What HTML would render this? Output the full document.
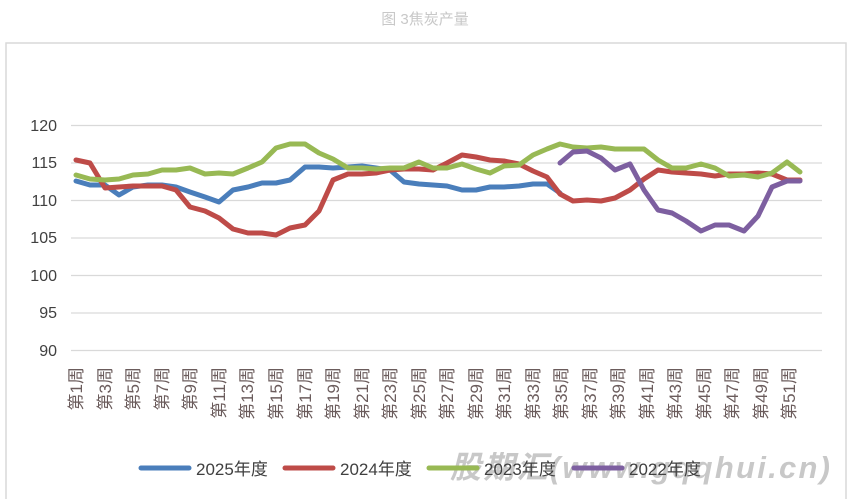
<!DOCTYPE html>
<html><head><meta charset="utf-8"><style>
body{margin:0;background:#fff;width:851px;height:499px;overflow:hidden}
svg{display:block;font-family:"Liberation Sans","Noto Sans CJK SC",sans-serif}
</style></head><body>
<svg width="851" height="499" viewBox="0 0 851 499">
<text x="425" y="24" text-anchor="middle" font-size="15" fill="#c8c8c8">图 3焦炭产量</text>
<rect x="6" y="43" width="840" height="470" fill="none" stroke="#d9d9d9" stroke-width="1.5"/>
<g stroke="#d9d9d9" stroke-width="1.2">
<line x1="71" x2="822" y1="125.5" y2="125.5"/><line x1="71" x2="822" y1="163" y2="163"/>
<line x1="71" x2="822" y1="200.5" y2="200.5"/><line x1="71" x2="822" y1="238" y2="238"/>
<line x1="71" x2="822" y1="275.5" y2="275.5"/><line x1="71" x2="822" y1="313" y2="313"/>
<line x1="71" x2="822" y1="350.5" y2="350.5"/>
</g>
<g font-size="16" fill="#404040" text-anchor="end">
<text x="57" y="131">120</text><text x="57" y="168">115</text><text x="57" y="206">110</text>
<text x="57" y="243">105</text><text x="57" y="281">100</text><text x="57" y="318">95</text><text x="57" y="356">90</text>
</g>
<g fill="none" stroke-width="5" stroke-linejoin="round" stroke-linecap="round">
<polyline stroke="#4a7ebb" points="76,181 90,185 105,185 119,195 133,187 148,185 162,185 176,187 190,192 205,197 219,202 233,190 248,187 262,183 276,183 290,180 305,167 319,167 333,168 348,167 362,166 376,168 390,170 404,182 419,184 433,185 447,186 462,190 476,190 490,187 504,187 519,186 533,184 547,184 560,193"/>
<polyline stroke="#be4b48" points="76,160 90,163 105,188 119,187 133,186 148,186 162,186 176,190 190,207 205,211 219,218 233,229 248,233 262,233 276,235 290,228 305,225 319,211 333,180 348,174 362,174 376,173 390,170 404,169 419,169 433,170 447,163 462,155 476,157 490,160 504,161 519,164 533,171 547,177 560,194 573,201 587,200 601,201 615,198 630,190 644,179 658,170 672,172 686,173 701,174 715,176 729,174 744,174 758,173 772,174 787,180 800,180"/>
<polyline stroke="#98b954" points="76,175 90,179 105,180 119,179 133,175 148,174 162,170 176,170 190,168 205,174 219,173 233,174 248,168 262,162 276,148 290,144 305,144 319,153 333,159 348,168 362,168 376,169 390,168 404,168 419,162 433,168 447,168 462,164 476,169 490,173 504,166 519,165 533,155 547,149 560,144 573,147 587,148 601,147 615,149 630,149 644,149 658,160 672,168 686,168 701,164 715,168 729,176 744,175 758,177 772,173 787,162 800,172"/>
<polyline stroke="#7d5fa0" points="560,163 573,152 587,151 601,158 615,170 630,164 644,190 658,210 672,213 686,221 701,231 715,225 729,225 744,231 758,216 772,187 787,181 800,181"/>
</g>
<text x="450" y="478" font-size="31" font-weight="bold" font-style="italic" fill="#bfbfbf" opacity="0.85" textLength="380">股期汇(www.gqqhui.cn)</text>
<g stroke-width="5" stroke-linecap="round">
<line x1="141" x2="189" y1="468" y2="468" stroke="#4a7ebb"/>
<line x1="285" x2="333" y1="468" y2="468" stroke="#be4b48"/>
<line x1="429" x2="477" y1="468" y2="468" stroke="#98b954"/>
<line x1="574" x2="622" y1="468" y2="468" stroke="#7d5fa0"/>
</g>
<g font-size="17" fill="#404040">
<text x="196" y="475">2025年度</text><text x="340" y="475">2024年度</text>
<text x="484" y="475">2023年度</text><text x="629" y="475">2022年度</text>
</g>
<g font-size="17" fill="#6b5c5c" text-anchor="end">
<text transform="translate(82,367) rotate(-90)">第1周</text>
<text transform="translate(111,367) rotate(-90)">第3周</text>
<text transform="translate(139,367) rotate(-90)">第5周</text>
<text transform="translate(168,367) rotate(-90)">第7周</text>
<text transform="translate(196,367) rotate(-90)">第9周</text>
<text transform="translate(225,367) rotate(-90)">第11周</text>
<text transform="translate(253,367) rotate(-90)">第13周</text>
<text transform="translate(282,367) rotate(-90)">第15周</text>
<text transform="translate(311,367) rotate(-90)">第17周</text>
<text transform="translate(339,367) rotate(-90)">第19周</text>
<text transform="translate(368,367) rotate(-90)">第21周</text>
<text transform="translate(396,367) rotate(-90)">第23周</text>
<text transform="translate(425,367) rotate(-90)">第25周</text>
<text transform="translate(453,367) rotate(-90)">第27周</text>
<text transform="translate(482,367) rotate(-90)">第29周</text>
<text transform="translate(510,367) rotate(-90)">第31周</text>
<text transform="translate(539,367) rotate(-90)">第33周</text>
<text transform="translate(567,367) rotate(-90)">第35周</text>
<text transform="translate(596,367) rotate(-90)">第37周</text>
<text transform="translate(624,367) rotate(-90)">第39周</text>
<text transform="translate(653,367) rotate(-90)">第41周</text>
<text transform="translate(681,367) rotate(-90)">第43周</text>
<text transform="translate(710,367) rotate(-90)">第45周</text>
<text transform="translate(738,367) rotate(-90)">第47周</text>
<text transform="translate(767,367) rotate(-90)">第49周</text>
<text transform="translate(795,367) rotate(-90)">第51周</text>
</g>
</svg>
</body></html>
